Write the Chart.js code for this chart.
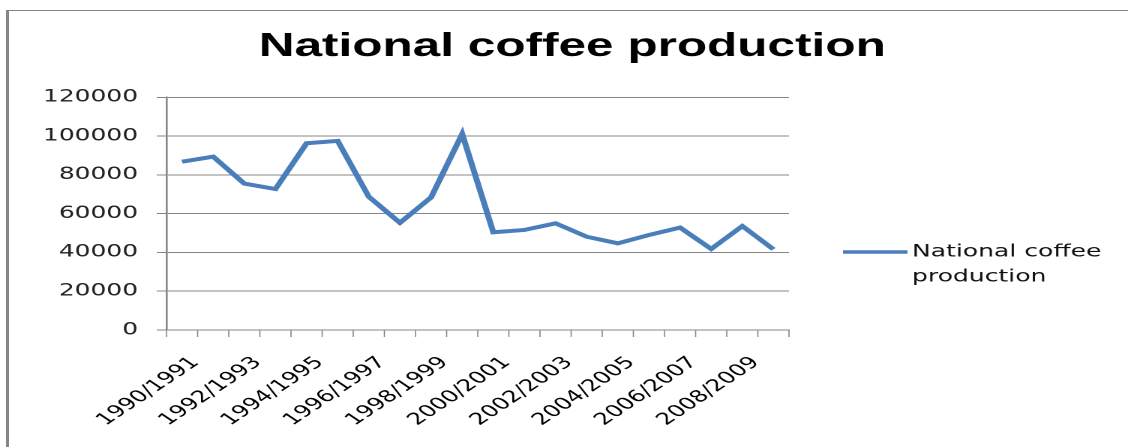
<!DOCTYPE html>
<html lang="en">
<head>
  <meta charset="UTF-8" />
  <title>National coffee production</title>
  <script src="https://cdn.jsdelivr.net/npm/chart.js"></script>
  <style>
    html, body {
      margin: 0;
      padding: 0;
      background: #fff;
      overflow: hidden;
      width: 1128px;
      height: 447px;
    }
    /* chart frame: only top and left edges show in the picture */
    .frame {
      position: absolute;
      left: 6px;
      top: 10px;
      width: 1130px;
      height: 450px;
      border-top: 1px solid #868686;
      border-left: 3px solid #868686;
    }
    /* the original is stretched sideways, so draw narrow and scale */
    .wrap {
      position: absolute;
      left: 0;
      top: 0;
      width: 752px;
      height: 447px;
      transform: scaleX(1.5);
      transform-origin: 0 0;
    }
  </style>
</head>
<body>
  <div class="frame"></div>
  <div class="wrap"><canvas id="coffeeChart"></canvas></div>

  <script>
    // Data
    const seasons = [
      '1990/1991', '1991/1992', '1992/1993', '1993/1994', '1994/1995',
      '1995/1996', '1996/1997', '1997/1998', '1998/1999', '1999/2000',
      '2000/2001', '2001/2002', '2002/2003', '2003/2004', '2004/2005',
      '2005/2006', '2006/2007', '2007/2008', '2008/2009', '2009/2010'
    ];
    const production = [
      86800, 89400, 75500, 72700, 96300,
      97500, 68700, 55300, 68400, 101100,
      50400, 51600, 55000, 48100, 44700,
      49000, 52800, 41800, 53600, 41600
    ];
    const yMax = 120000;
    const yStep = 20000;
    const seriesName = ['National coffee', 'production'];

    const gray = '#868686';
    const blue = '#4a7ebb';
    const smallFont = { family: 'DejaVu Sans', size: 16.4 };

    // tick marks under the x axis, one at every category boundary
    const xTickMarks = {
      id: 'xTickMarks',
      afterDraw(chart) {
        const x = chart.scales.x;
        const ctx = chart.ctx;
        const w = (x.right - x.left) / seasons.length;
        ctx.save();
        ctx.strokeStyle = gray;
        ctx.lineWidth = 0.8;
        ctx.beginPath();
        for (let i = 0; i <= seasons.length; i++) {
          const px = x.left + i * w;
          ctx.moveTo(px, x.top);
          ctx.lineTo(px, x.top + 7);
        }
        ctx.stroke();
        ctx.restore();
      }
    };

    // legend drawn by hand so the label can wrap on two lines
    const sideLegend = {
      id: 'sideLegend',
      afterDraw(chart) {
        const ctx = chart.ctx;
        ctx.save();
        ctx.strokeStyle = blue;
        ctx.lineWidth = 3.5;
        ctx.beginPath();
        ctx.moveTo(562, 252);
        ctx.lineTo(605, 252);
        ctx.stroke();
        ctx.fillStyle = '#111';
        ctx.font = '16.7px "DejaVu Sans"';
        ctx.textBaseline = 'middle';
        ctx.textAlign = 'left';
        ctx.fillText(seriesName[0], 608, 252);
        ctx.fillText(seriesName[1], 608, 277);
        ctx.restore();
      }
    };

    new Chart(document.getElementById('coffeeChart'), {
      type: 'line',
      data: {
        labels: seasons,
        datasets: [{
          label: seriesName.join(' '),
          data: production,
          borderColor: blue,
          backgroundColor: blue,
          borderWidth: 4,
          pointRadius: 0,
          tension: 0,
          fill: false
        }]
      },
      options: {
        responsive: true,
        maintainAspectRatio: false,
        animation: false,
        devicePixelRatio: 2,
        layout: { padding: { left: 11, right: 0, top: 10, bottom: 10 } },
        plugins: {
          legend: { display: false },
          tooltip: { enabled: false },
          title: {
            display: true,
            text: 'National coffee production',
            color: '#000',
            font: { family: 'Liberation Sans', size: 33, weight: 'bold', lineHeight: 1.2 },
            padding: { top: 17, bottom: 30.7 }
          }
        },
        scales: {
          x: {
            offset: true,
            grid: { display: false, drawTicks: false },
            border: { color: gray },
            ticks: {
              autoSkip: false,
              maxRotation: 45,
              minRotation: 45,
              padding: 23,
              labelOffset: 9,
              color: '#000',
              font: smallFont,
              callback: (v, i) => (i % 2 === 0 ? seasons[i] : '')
            },
            afterFit: s => { s.height = 107; }
          },
          y: {
            min: 0,
            max: yMax,
            grid: { color: gray, tickLength: 6.5 },
            border: { color: gray, width: 1.3 },
            ticks: {
              stepSize: yStep,
              padding: 12.5,
              color: '#222',
              font: { family: 'DejaVu Sans', size: 16.6 },
              callback: v => String(v)
            },
            afterFit: s => { s.width = 100; }
          },
          // empty axis on the right keeps room for the legend
          yRight: {
            position: 'right',
            display: true,
            grid: { display: false },
            border: { display: false },
            ticks: { display: false },
            afterFit: s => { s.width = 226; }
          }
        }
      },
      plugins: [xTickMarks, sideLegend]
    });
  </script>
</body>
</html>
